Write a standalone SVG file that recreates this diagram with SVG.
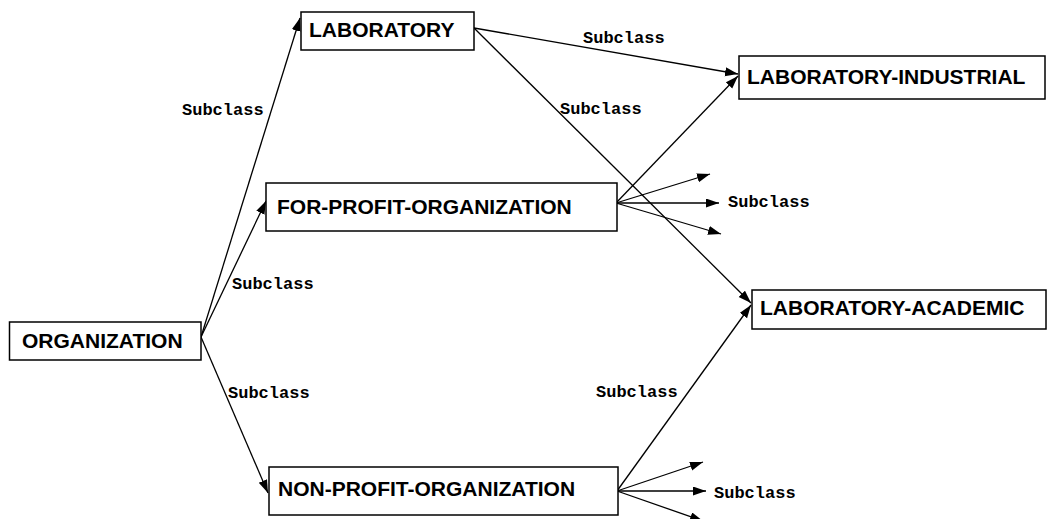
<svg xmlns="http://www.w3.org/2000/svg" width="1047" height="519" viewBox="0 0 1047 519">
<style>
.box{fill:#fff;stroke:#000;stroke-width:1.5}
.nt{font-family:"Liberation Sans",Arial,sans-serif;font-weight:bold;font-size:21px;fill:#000}
.lb{font-family:"Liberation Mono","Courier New",monospace;font-weight:bold;font-size:17px;fill:#000}
.ln{stroke:#000;stroke-width:1.3;fill:none;marker-end:url(#ah)}
</style>
<defs>
<marker id="ah" markerUnits="userSpaceOnUse" markerWidth="14" markerHeight="10" refX="13" refY="4.5" orient="auto">
<path d="M0,0 L13,4.5 L0,9 z" fill="#000"/>
</marker>
</defs>
<rect width="1047" height="519" fill="#fff"/>
<g id="connectors">
<line class="ln" x1="201" y1="337" x2="300" y2="18"/>
<line class="ln" x1="201" y1="337" x2="266" y2="201"/>
<line class="ln" x1="201" y1="337" x2="268" y2="493"/>
<line class="ln" x1="474" y1="28" x2="738" y2="74"/>
<line class="ln" x1="474" y1="28" x2="751" y2="303"/>
<line class="ln" x1="616" y1="203" x2="738" y2="76"/>
<line class="ln" x1="616" y1="203" x2="710" y2="174"/>
<line class="ln" x1="616" y1="203" x2="719" y2="203"/>
<line class="ln" x1="616" y1="203" x2="721" y2="234"/>
<line class="ln" x1="617" y1="491" x2="751" y2="305"/>
<line class="ln" x1="617" y1="491" x2="703" y2="462"/>
<line class="ln" x1="617" y1="491" x2="706" y2="491"/>
<line class="ln" x1="617" y1="491" x2="703" y2="521"/>
<text class="lb" x="182" y="115">Subclass</text>
<text class="lb" x="583" y="43">Subclass</text>
<text class="lb" x="560" y="114">Subclass</text>
<text class="lb" x="232" y="289">Subclass</text>
<text class="lb" x="728" y="207">Subclass</text>
<text class="lb" x="228" y="398">Subclass</text>
<text class="lb" x="596" y="397">Subclass</text>
<text class="lb" x="714" y="498">Subclass</text>
</g>
<g id="organization">
<rect class="box" x="9.5" y="322" width="191.5" height="38"/>
<text class="nt" x="22" y="348">ORGANIZATION</text>
</g>
<g id="laboratory">
<rect class="box" x="301" y="12" width="173" height="38"/>
<text class="nt" x="309" y="37">LABORATORY</text>
</g>
<g id="for-profit-organization">
<rect class="box" x="266" y="183" width="351" height="48"/>
<text class="nt" x="277" y="214">FOR-PROFIT-ORGANIZATION</text>
</g>
<g id="non-profit-organization">
<rect class="box" x="269" y="467" width="349" height="48"/>
<text class="nt" x="278" y="496">NON-PROFIT-ORGANIZATION</text>
</g>
<g id="laboratory-industrial">
<rect class="box" x="739" y="56" width="306" height="43"/>
<text class="nt" x="747" y="84">LABORATORY-INDUSTRIAL</text>
</g>
<g id="laboratory-academic">
<rect class="box" x="752" y="290" width="294" height="39"/>
<text class="nt" x="760" y="315">LABORATORY-ACADEMIC</text>
</g>
</svg>
